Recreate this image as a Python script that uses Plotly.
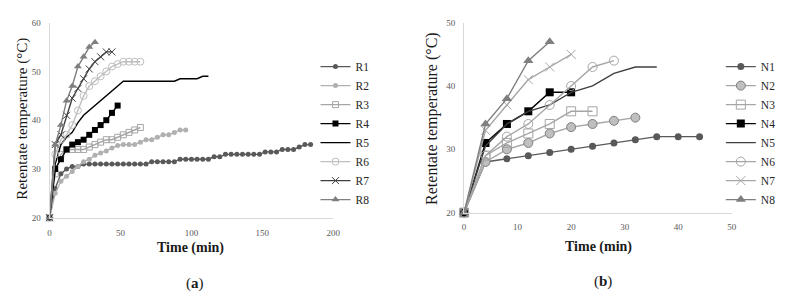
import plotly.graph_objects as go

W, H = 792, 292

# ---------------- Panel (a) data ----------------
t4 = lambda n: [4 * i for i in range(n)]
r1_t = t4(47)
r1_v = [20, 26, 29, 30, 30.5, 30.5, 31, 31, 31, 31, 31, 31, 31, 31, 31, 31, 31, 31,
        31.5, 31.5, 31.5, 31.5, 31.5, 32, 32, 32, 32, 32, 32, 32.5, 32.5, 33, 33, 33,
        33, 33, 33, 33, 33.5, 33.5, 33.5, 34, 34, 34, 34.5, 35, 35]
r2_t = t4(25)
r2_v = [20, 25, 27.5, 28.5, 29.5, 30.5, 31.5, 32, 32.8, 33.3, 33.7, 34.3, 34.8, 35, 35,
        35, 35.5, 36, 36, 36.5, 37, 37, 37.5, 38, 38]
r3_t = t4(17)
r3_v = [20, 29, 33, 34, 34, 34, 34, 34.5, 35, 35.5, 36, 36, 36.5, 37, 37.5, 38, 38.5]
r4_t = t4(13)
r4_v = [20, 30, 32, 34, 35, 35.5, 36, 37, 38, 39, 40, 41.5, 43]
r5_t = t4(29)
r5_v = [20, 31, 35, 36.5, 37.5, 39.5, 41, 42, 43, 44, 45, 46, 47, 48, 48, 48, 48, 48,
        48, 48, 48, 48, 48, 48.5, 48.5, 48.5, 48.5, 49, 49]
r6_t = t4(17)
r6_v = [20, 33, 36, 37, 39, 42, 45, 47, 48, 49, 50, 51, 51.5, 52, 52, 52, 52]
r7_t = t4(12)
r7_v = [20, 35, 37, 41, 44.5, 46.5, 48.5, 50.5, 52, 53, 54, 54]
r8_t = t4(9)
r8_v = [20, 35, 39, 44, 47, 51, 53, 55, 56]

# ---------------- Panel (b) data ----------------
n1_t = t4(12)
n1_v = [20, 28, 28.5, 29, 29.5, 30, 30.5, 31, 31.5, 32, 32, 32]
n2_t = t4(9)
n2_v = [20, 28, 30, 31, 32.5, 33.5, 34, 34.5, 35]
n3_t = t4(7)
n3_v = [20, 29, 31, 32.5, 34, 36, 36]
n4_t = t4(6)
n4_v = [20, 31, 34, 36, 39, 39]
n5_t = t4(10)
n5_v = [20, 30.5, 34, 36, 37, 39, 40, 42, 43, 43]
n6_t = t4(8)
n6_v = [20, 29, 32, 34, 37, 40, 43, 44]
n7_t = t4(6)
n7_v = [20, 33, 37, 41, 43, 45]
n8_t = t4(5)
n8_v = [20, 34, 38, 44, 47]

SERIF = "Liberation Serif, Times New Roman, DejaVu Serif, serif"

fig = go.Figure()

def add(x, y, name, xa, ya, leg, lcolor, lw=1.4, symbol=None, msize=5,
        mfill=None, mline=None, mlw=1):
    mode = "lines+markers" if symbol else "lines"
    marker = None
    if symbol:
        marker = dict(symbol=symbol, size=msize, color=mfill if mfill else lcolor,
                      line=dict(color=mline if mline else lcolor, width=mlw))
    fig.add_trace(go.Scatter(x=x, y=y, name=name, mode=mode, xaxis=xa, yaxis=ya,
                             legend=leg, line=dict(color=lcolor, width=lw),
                             marker=marker, cliponaxis=False))

# panel a
add(r1_t, r1_v, "R1", "x", "y", "legend", "#595959", symbol="circle", msize=5, mlw=0)
add(r2_t, r2_v, "R2", "x", "y", "legend", "#b0b0b0", symbol="circle", msize=5, mlw=0)
add(r3_t, r3_v, "R3", "x", "y", "legend", "#a6a6a6", symbol="square-open", msize=6, mline="#8c8c8c")
add(r4_t, r4_v, "R4", "x", "y", "legend", "#000000", symbol="square", msize=6, mlw=0)
add(r5_t, r5_v, "R5", "x", "y", "legend", "#000000")
add(r6_t, r6_v, "R6", "x", "y", "legend", "#bfbfbf", symbol="circle-open", msize=7, mline="#8c8c8c")
add(r7_t, r7_v, "R7", "x", "y", "legend", "#404040", symbol="x-thin-open", msize=7, mline="#404040")
add(r8_t, r8_v, "R8", "x", "y", "legend", "#7f7f7f", symbol="triangle-up", msize=7, mlw=0)

# panel b
add(n1_t, n1_v, "N1", "x2", "y2", "legend2", "#595959", symbol="circle", msize=7, mlw=0)
add(n2_t, n2_v, "N2", "x2", "y2", "legend2", "#a6a6a6", symbol="circle", msize=9, mfill="#bfbfbf", mline="#7f7f7f")
add(n3_t, n3_v, "N3", "x2", "y2", "legend2", "#a6a6a6", symbol="square-open", msize=9, mline="#a6a6a6")
add(n4_t, n4_v, "N4", "x2", "y2", "legend2", "#000000", symbol="square", msize=8, mlw=0)
add(n5_t, n5_v, "N5", "x2", "y2", "legend2", "#404040")
add(n6_t, n6_v, "N6", "x2", "y2", "legend2", "#a6a6a6", symbol="circle-open", msize=9, mline="#595959")
add(n7_t, n7_v, "N7", "x2", "y2", "legend2", "#a6a6a6", symbol="x-thin-open", msize=9, mline="#8c8c8c")
add(n8_t, n8_v, "N8", "x2", "y2", "legend2", "#7f7f7f", symbol="triangle-up", msize=9, mlw=0)

tickfont = dict(family=SERIF, size=9, color="#595959")
axcommon = dict(showgrid=False, zeroline=False, showline=True, linecolor="#d9d9d9",
                linewidth=1, ticks="", tickfont=tickfont)

legfont = dict(family=SERIF, size=11.5, color="#262626")

fig.update_layout(
    width=W, height=H, margin=dict(l=0, r=0, t=0, b=0),
    paper_bgcolor="white", plot_bgcolor="white",
    font=dict(family=SERIF, color="#262626"),
    xaxis=dict(domain=[40 / W, 327 / W], range=[0, 200], tickvals=[0, 50, 100, 150, 200],
               anchor="y", ticklabelstandoff=6, **axcommon),
    yaxis=dict(domain=[(H - 212) / H, (H - 10) / H], range=[20, 60],
               tickvals=[20, 30, 40, 50, 60], anchor="x", ticklabelstandoff=6, **axcommon),
    xaxis2=dict(domain=[459.3 / W, 730 / W], range=[0, 50], tickvals=[0, 10, 20, 30, 40, 50],
                anchor="y2", ticklabelstandoff=6, **axcommon),
    yaxis2=dict(domain=[(H - 206.7) / H, (H - 10) / H], range=[20, 50],
                tickvals=[20, 30, 40, 50], anchor="x2", ticklabelstandoff=6, **axcommon),
    legend=dict(x=309 / W, y=(H - 40.5) / H, xanchor="left", yanchor="top",
                bgcolor="rgba(0,0,0,0)", font=legfont, itemwidth=30, tracegroupgap=0),
    legend2=dict(x=719 / W, y=(H - 40.5) / H, xanchor="left", yanchor="top",
                 bgcolor="rgba(0,0,0,0)", font=legfont, itemwidth=30, tracegroupgap=0),
    showlegend=True,
)

ann = [
    dict(text="<b>Time (min)</b>", x=183 / W, y=(H - 243) / H, size=14, angle=0),
    dict(text="<b>Time (min)</b>", x=595 / W, y=(H - 242) / H, size=14, angle=0),
    dict(text="Retentate temperature (°C)", x=12.5 / W, y=(H - 109) / H, size=15, angle=-90),
    dict(text="Retentate temperature (°C)", x=427.5 / W, y=(H - 109) / H, size=16, angle=-90),
    dict(text="(<b>a</b>)", x=187 / W, y=(H - 280) / H, size=15, angle=0),
    dict(text="(<b>b</b>)", x=600 / W, y=(H - 278) / H, size=15, angle=0),
]
for a in ann:
    fig.add_annotation(text=a["text"], x=a["x"], y=a["y"], xref="paper", yref="paper",
                       showarrow=False, textangle=a["angle"], xanchor="center", yanchor="middle",
                       font=dict(family=SERIF, size=a["size"], color="#1a1a1a"))

fig.write_html("out.html")
